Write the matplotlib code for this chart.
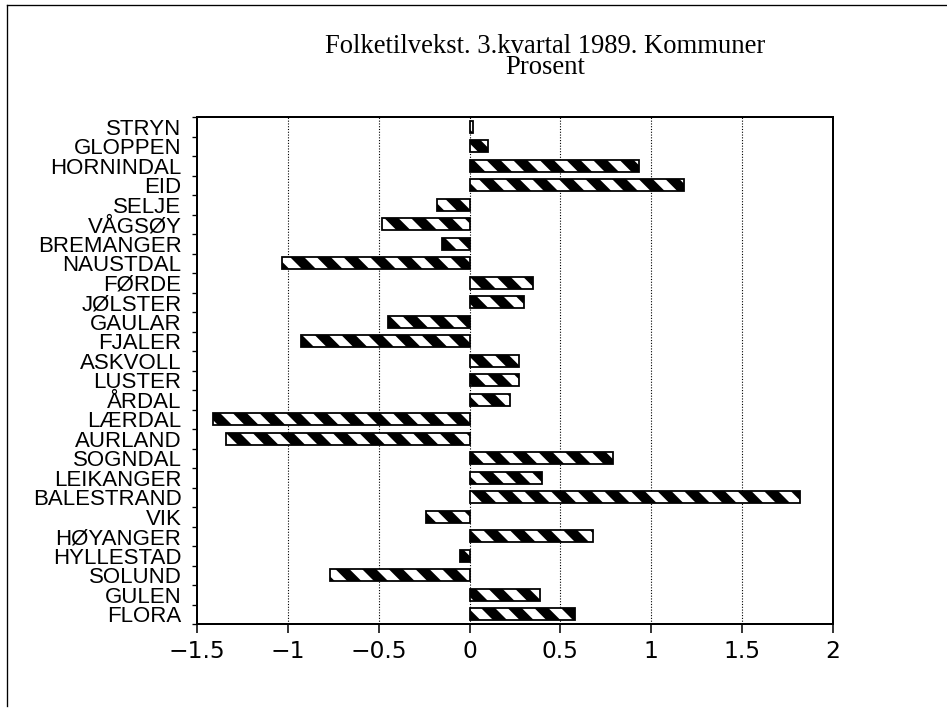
import numpy as np
import matplotlib
matplotlib.use("Agg")
import matplotlib.pyplot as plt
from matplotlib.lines import Line2D

DPI = 160
plt.rcParams['hatch.linewidth'] = 4.0

# kommuner, top to bottom as in the chart
kommuner = ['STRYN', 'GLOPPEN', 'HORNINDAL', 'EID', 'SELJE', 'VÅGSØY',
            'BREMANGER', 'NAUSTDAL', 'FØRDE', 'JØLSTER', 'GAULAR', 'FJALER',
            'ASKVOLL', 'LUSTER', 'ÅRDAL', 'LÆRDAL', 'AURLAND', 'SOGNDAL',
            'LEIKANGER', 'BALESTRAND', 'VIK', 'HØYANGER', 'HYLLESTAD',
            'SOLUND', 'GULEN', 'FLORA']
vekst = [0.02, 0.10, 0.93, 1.18, -0.18, -0.48,
         -0.15, -1.03, 0.35, 0.30, -0.45, -0.93,
         0.27, 0.27, 0.22, -1.41, -1.34, 0.79,
         0.40, 1.82, -0.24, 0.68, -0.05,
         -0.77, 0.39, 0.58]
xticks = [-1.5, -1, -0.5, 0, 0.5, 1, 1.5, 2]
xticklabels = ['\u22121.5', '\u22121', '\u22120.5', '0', '0.5', '1', '1.5', '2']

fig = plt.figure(figsize=(947 / DPI, 711 / DPI), dpi=DPI)
ax = fig.add_axes([197 / 947, 1 - 624 / 711, 636 / 947, 507 / 711])

n = len(kommuner)
y = np.arange(n)[::-1]

# black bars with white diagonal stripes, then a black outline on top
ax.barh(y, vekst, height=0.6, color='black', edgecolor='white',
        hatch='\\\\', linewidth=0, zorder=3)
ax.barh(y, vekst, height=0.6, fill=False, edgecolor='black',
        linewidth=0.8, zorder=4)

ax.set_xlim(-1.5, 2)
ax.set_ylim(-0.5, n - 0.5)

ax.set_xticks(xticks)
ax.set_xticklabels(xticklabels, fontsize=10.5, family='DejaVu Sans')
ax.tick_params(axis='x', direction='out', length=4, width=0.7, pad=3)

ax.set_yticks(y)
ax.set_yticklabels(kommuner, fontsize=10, family='Liberation Sans')
ax.tick_params(axis='y', which='major', length=0, pad=7)
ax.set_yticks(np.arange(n + 1) - 0.5, minor=True)
ax.tick_params(axis='y', which='minor', direction='out', length=2.2, width=0.6)

for xv in xticks[1:-1]:
    ax.axvline(xv, color='black', linestyle=(0, (1, 1.5)), linewidth=0.5, zorder=1)

for s in ax.spines.values():
    s.set_linewidth(0.9)

fig.text(545 / 947, 1 - 74 / 711,
         'Folketilvekst. 3.kvartal 1989. Kommuner\nProsent',
         ha='center', va='baseline', multialignment='center',
         linespacing=0.8, fontsize=12, family='Liberation Serif')

# outer frame (top and left edges only)
fig.add_artist(Line2D([7 / 947, 1], [1 - 5 / 711, 1 - 5 / 711],
                      transform=fig.transFigure, color='black', linewidth=0.6))
fig.add_artist(Line2D([7 / 947, 7 / 947], [1 - 5 / 711, 1 - 706 / 711],
                      transform=fig.transFigure, color='black', linewidth=0.6))

fig.savefig('out.png', dpi=DPI, facecolor='white')
